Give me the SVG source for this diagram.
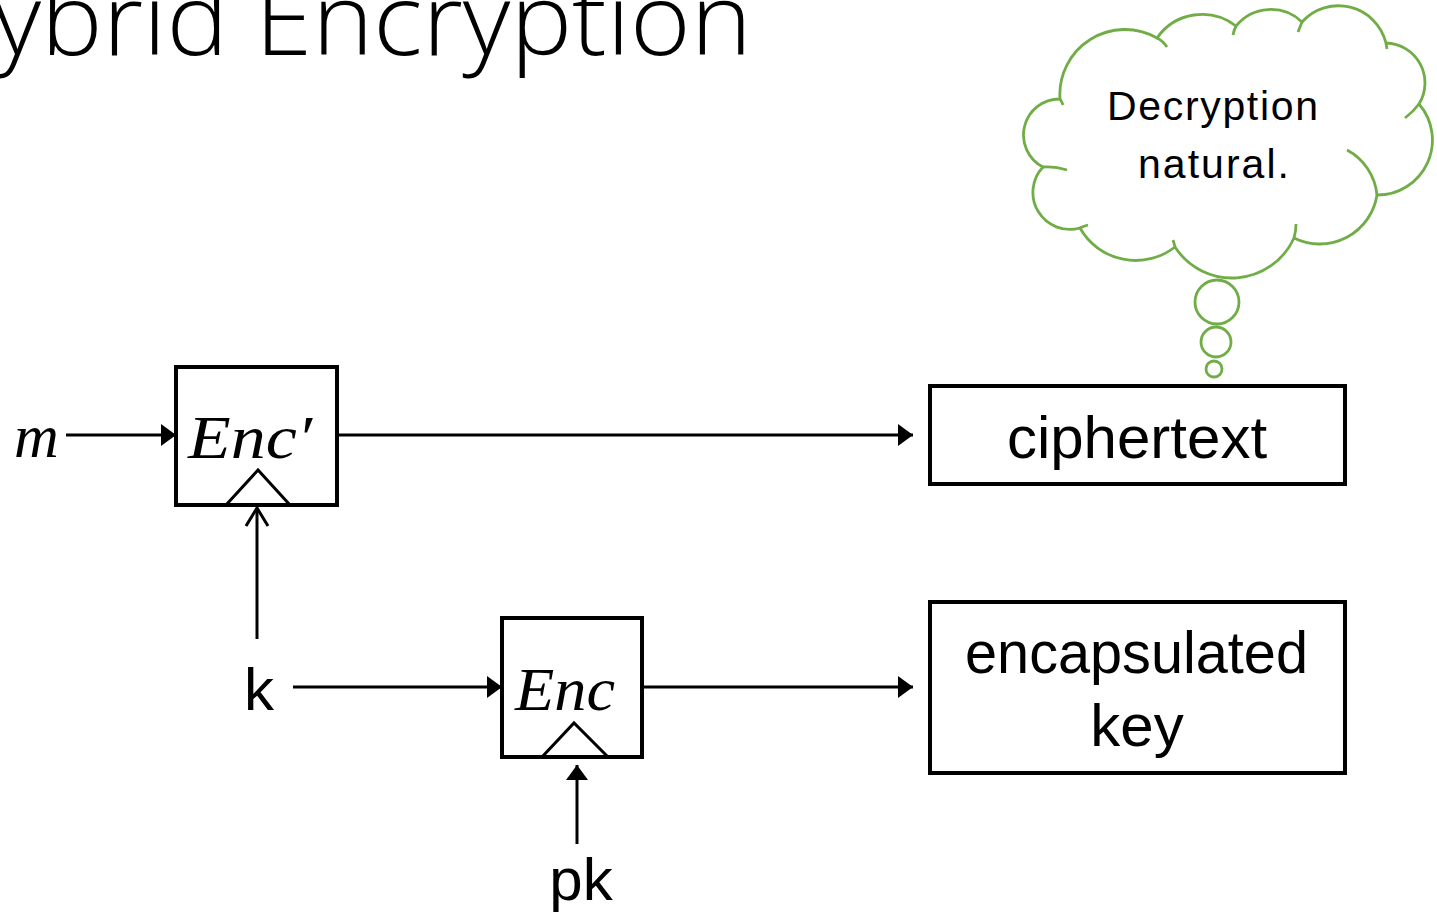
<svg xmlns="http://www.w3.org/2000/svg" width="1437" height="913" viewBox="0 0 1437 913">
<style>
.box{fill:#fff;stroke:#000;stroke-width:4}
.conn{fill:none;stroke:#000;stroke-width:3}
.tri{fill:none;stroke:#000;stroke-width:3}
.lbl{font-family:"Liberation Sans",Arial,sans-serif;font-size:60px;fill:#000}
.math{font-family:"Liberation Serif","Times New Roman",serif;font-style:italic;font-size:62px;fill:#000}
.cloud{fill:#fff;stroke:#70AD47;stroke-width:2.8}
.cloudtail{fill:none;stroke:#70AD47;stroke-width:2.8}
.ctext{font-family:"Liberation Sans",Arial,sans-serif;font-size:41px;fill:#000}
.title{font-family:"Open Sans","Liberation Sans",sans-serif;font-weight:300;font-size:100px;fill:#000}
</style>
<defs>
<marker id="ah" markerUnits="userSpaceOnUse" markerWidth="16" markerHeight="24" refX="15" refY="11" orient="auto">
<path d="M0,0 L15,11 L0,22 Z" fill="#000"/>
</marker>
<marker id="open" markerUnits="userSpaceOnUse" markerWidth="22" markerHeight="26" refX="19" refY="12" orient="auto">
<path d="M1,1 L19,12 L1,23" fill="none" stroke="#000" stroke-width="3"/>
</marker>
</defs>
<rect width="1437" height="913" fill="#fff"/>
<g id="title">
<text class="title" x="-81" y="55" textLength="833" lengthAdjust="spacingAndGlyphs">Hybrid Encryption</text>
</g>
<g id="connectors">
<line class="conn" x1="66" y1="435" x2="176" y2="435" marker-end="url(#ah)"/>
<line class="conn" x1="338" y1="435" x2="913" y2="435" marker-end="url(#ah)"/>
<line class="conn" x1="257" y1="639" x2="257" y2="508" marker-end="url(#open)"/>
<line class="conn" x1="293" y1="687" x2="502" y2="687" marker-end="url(#ah)"/>
<line class="conn" x1="642" y1="687" x2="913" y2="687" marker-end="url(#ah)"/>
<line class="conn" x1="577" y1="844" x2="577" y2="765" marker-end="url(#ah)"/>
</g>
<g id="m">
<text class="math" x="14" y="457">m</text>
</g>
<g id="enc-prime">
<rect class="box" x="176" y="367" width="161" height="138"/>
<polyline class="tri" points="226,505 258,470 290,505"/>
<text class="math" x="188" y="458" textLength="124" lengthAdjust="spacingAndGlyphs">Enc′</text>
</g>
<g id="k">
<text class="lbl" x="259" y="710" text-anchor="middle">k</text>
</g>
<g id="enc">
<rect class="box" x="502" y="618" width="140" height="139"/>
<polyline class="tri" points="542,757 574,723 608,757"/>
<text class="math" x="515" y="710" textLength="100" lengthAdjust="spacingAndGlyphs">Enc</text>
</g>
<g id="pk">
<text class="lbl" x="581" y="900" text-anchor="middle">pk</text>
</g>
<g id="ciphertext">
<rect class="box" x="930" y="386" width="415" height="98"/>
<text class="lbl" x="1137" y="458" text-anchor="middle">ciphertext</text>
</g>
<g id="encapsulated-key">
<rect class="box" x="930" y="602" width="415" height="171"/>
<text class="lbl" x="965" y="673" textLength="343" lengthAdjust="spacingAndGlyphs">encapsulated</text>
<text class="lbl" x="1137" y="746" text-anchor="middle">key</text>
</g>
<g id="thought-cloud">
<path class="cloud" d="M1060,99 A65,65 0 0 1 1157,38 A55,55 0 0 1 1236,26 A45,45 0 0 1 1302,22 A49,49 0 0 1 1386,43 A40,40 0 0 1 1419,104 A55,55 0 0 1 1377,195 A58,58 0 0 1 1294,238 A68,68 0 0 1 1175,247 A64,64 0 0 1 1080,228 A37,37 0 0 1 1043,167 A36,36 0 0 1 1060,99 Z"/>
<path class="cloudtail" d="M1157,38 Q1163,41 1167,47 M1236,26 Q1234,30 1233,35 M1302,22 Q1300,27 1298,32 M1386,43 L1387,49 M1419,104 Q1413,112 1405,118 M1347,150 A57,57 0 0 1 1377,195 M1296,224 Q1296,231 1294,238 M1175,247 Q1174,243 1173,240 M1080,228 Q1084,226 1088,225 M1043,167 Q1055,166 1067,170 M1060,99 Q1062,102 1063,105"/>
<circle class="cloud" cx="1217" cy="302" r="22"/>
<circle class="cloud" cx="1216" cy="342" r="15"/>
<circle class="cloud" cx="1214" cy="369" r="8"/>
<text class="ctext" x="1107" y="120" textLength="211" lengthAdjust="spacing">Decryption</text>
<text class="ctext" x="1138" y="178" textLength="151" lengthAdjust="spacing">natural.</text>
</g>
</svg>
